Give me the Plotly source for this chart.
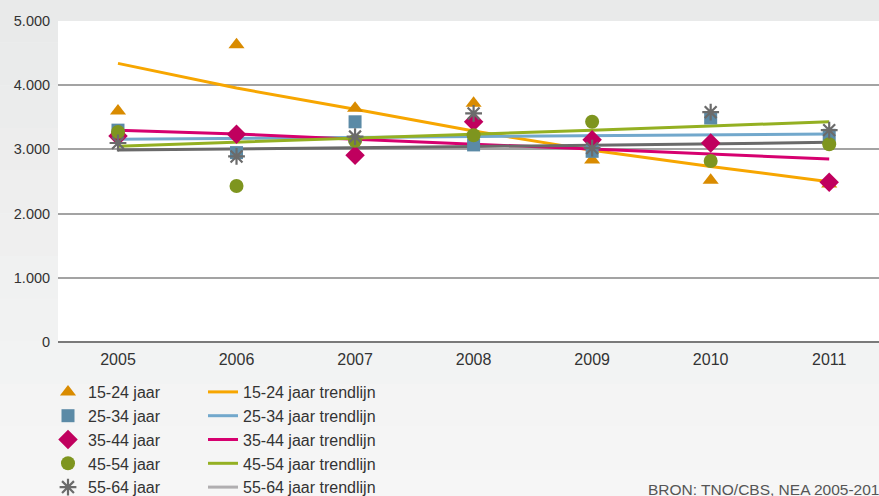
import plotly.graph_objects as go

years = [2005, 2006, 2007, 2008, 2009, 2010, 2011]
groups = ["15-24 jaar", "25-34 jaar", "35-44 jaar", "45-54 jaar", "55-64 jaar"]

# observed values
v_15_24 = [3600, 4630, 3640, 3720, 2835, 2520, 2460]
v_25_34 = [3300, 2950, 3430, 3070, 2970, 3490, 3220]
v_35_44 = [3210, 3235, 2910, 3430, 3150, 3100, 2490]
v_45_54 = [3270, 2430, 3135, 3220, 3430, 2820, 3080]
v_55_64 = [3100, 2890, 3200, 3560, 3020, 3580, 3300]

# trend lines
t_15_24 = [4340, 3955, 3625, 3285, 2985, 2735, 2497]
t_25_34 = [3160, 3172, 3187, 3205, 3215, 3228, 3240]
t_35_44 = [3300, 3240, 3160, 3085, 3000, 2930, 2850]
t_45_54 = [3050, 3110, 3175, 3240, 3300, 3365, 3430]
t_55_64 = [2990, 3005, 3025, 3045, 3065, 3090, 3110]

y_ticks = [0, 1000, 2000, 3000, 4000, 5000]
y_tick_labels = ["0", "1.000", "2.000", "3.000", "4.000", "5.000"]
source_text = "BRON: TNO/CBS, NEA 2005-2011"

values = [v_15_24, v_25_34, v_35_44, v_45_54, v_55_64]
trends = [t_15_24, t_25_34, t_35_44, t_45_54, t_55_64]
marker_colors = ["#d98b00", "#5b8aa6", "#c0005e", "#7e951f", "#6b6b6b"]
trend_colors = ["#f7a600", "#72a8cc", "#d6006f", "#94b022", "#6a6a6a"]
trend_legend_colors = ["#f7a600", "#72a8cc", "#d6006f", "#94b022", "#b0aeb0"]
symbols = ["triangle-up", "square", "diamond", "circle", "asterisk-open"]
sizes = [14, 13, 15, 14, 14]

fig = go.Figure()

for g, t, c in zip(groups, trends, trend_colors):
    fig.add_trace(go.Scatter(x=years, y=t, mode="lines", line=dict(color=c, width=3),
                             showlegend=False, hoverinfo="skip"))

for i, (g, v, c, s, sz) in enumerate(zip(groups, values, marker_colors, symbols, sizes)):
    mk = dict(color=c, size=sz, symbol=s)
    if s == "asterisk-open":
        mk["line"] = dict(color=c, width=2.2)
    fig.add_trace(go.Scatter(x=years, y=v, mode="markers", marker=mk, name=g,
                             legend="legend", legendgroup="m%d" % i))

for i, (g, c) in enumerate(zip(groups, trend_legend_colors)):
    fig.add_trace(go.Scatter(x=[None], y=[None], mode="lines", line=dict(color=c, width=3),
                             name=g + " trendlijn", legend="legend2", legendgroup="t%d" % i))

# figure is a bit taller than the window so the last legend row is cut like the reference
W, H = 879, 512
plot_top, plot_bot = 21, 342
ph = plot_bot - plot_top
pw = W - 58

top_c = (0xe9, 0xea, 0xea)
bot_c = (0xf6, 0xf6, 0xf6)
n = 12
shapes = []
for k in range(n):
    f = k / (n - 1)
    col = "rgb(%d,%d,%d)" % tuple(round(a + (b - a) * f) for a, b in zip(top_c, bot_c))
    py0 = H * k / n
    py1 = H * (k + 1) / n
    shapes.append(dict(type="rect", xref="paper", yref="paper", layer="below",
                       x0=-0.1, x1=1.1,
                       y0=(plot_bot - py1) / ph, y1=(plot_bot - py0) / ph,
                       fillcolor=col, line=dict(width=0)))
shapes.append(dict(type="rect", xref="paper", yref="paper", layer="below",
                   x0=0, x1=1, y0=0, y1=1, fillcolor="white", line=dict(width=0)))

leg_font = dict(size=16, color="#333333")
leg_y = (plot_bot - 375) / ph
fig.update_layout(
    width=W, height=H,
    margin=dict(l=58, r=0, t=plot_top, b=H - plot_bot),
    paper_bgcolor="#f1f2f2", plot_bgcolor="white",
    font=dict(family="Liberation Sans, Arial, sans-serif", size=14, color="#333333"),
    shapes=shapes,
    xaxis=dict(range=[2004.494, 2011.42], tickmode="array", tickvals=years,
               ticktext=[str(y) for y in years], showgrid=False, zeroline=False,
               showline=False, ticks="outside", ticklen=3, tickcolor="rgba(0,0,0,0)",
               tickfont=dict(size=16)),
    yaxis=dict(range=[0, 5000], tickmode="array", tickvals=y_ticks, ticktext=y_tick_labels,
               showgrid=True, gridcolor="#a3a3a3", gridwidth=1.5, zeroline=True,
               zerolinecolor="#7a7a7a", zerolinewidth=1.5, showline=False,
               ticks="outside", ticklen=4, tickcolor="rgba(0,0,0,0)", tickfont=dict(size=14.5)),
    legend=dict(x=(48 - 58) / pw, xanchor="left", y=leg_y, yanchor="top",
                bgcolor="rgba(0,0,0,0)", font=leg_font, tracegroupgap=0, orientation="v"),
    legend2=dict(x=(203 - 58) / pw, xanchor="left", y=leg_y, yanchor="top",
                 bgcolor="rgba(0,0,0,0)", font=leg_font, tracegroupgap=0, orientation="v"),
    annotations=[dict(text=source_text, xref="paper", yref="paper",
                      x=(646 - 58) / pw, y=(plot_bot - 489) / ph, xanchor="left", yanchor="middle",
                      showarrow=False, font=dict(size=15.5, color="#555555"))],
    showlegend=True,
)

fig.write_html(
    "out.html",
    config={"displayModeBar": False},
    post_script=("document.body.style.margin='0';"
                 "document.body.style.overflow='hidden';"
                 "document.documentElement.style.overflow='hidden';"
                 "document.body.style.background='#f1f2f2';"),
)
